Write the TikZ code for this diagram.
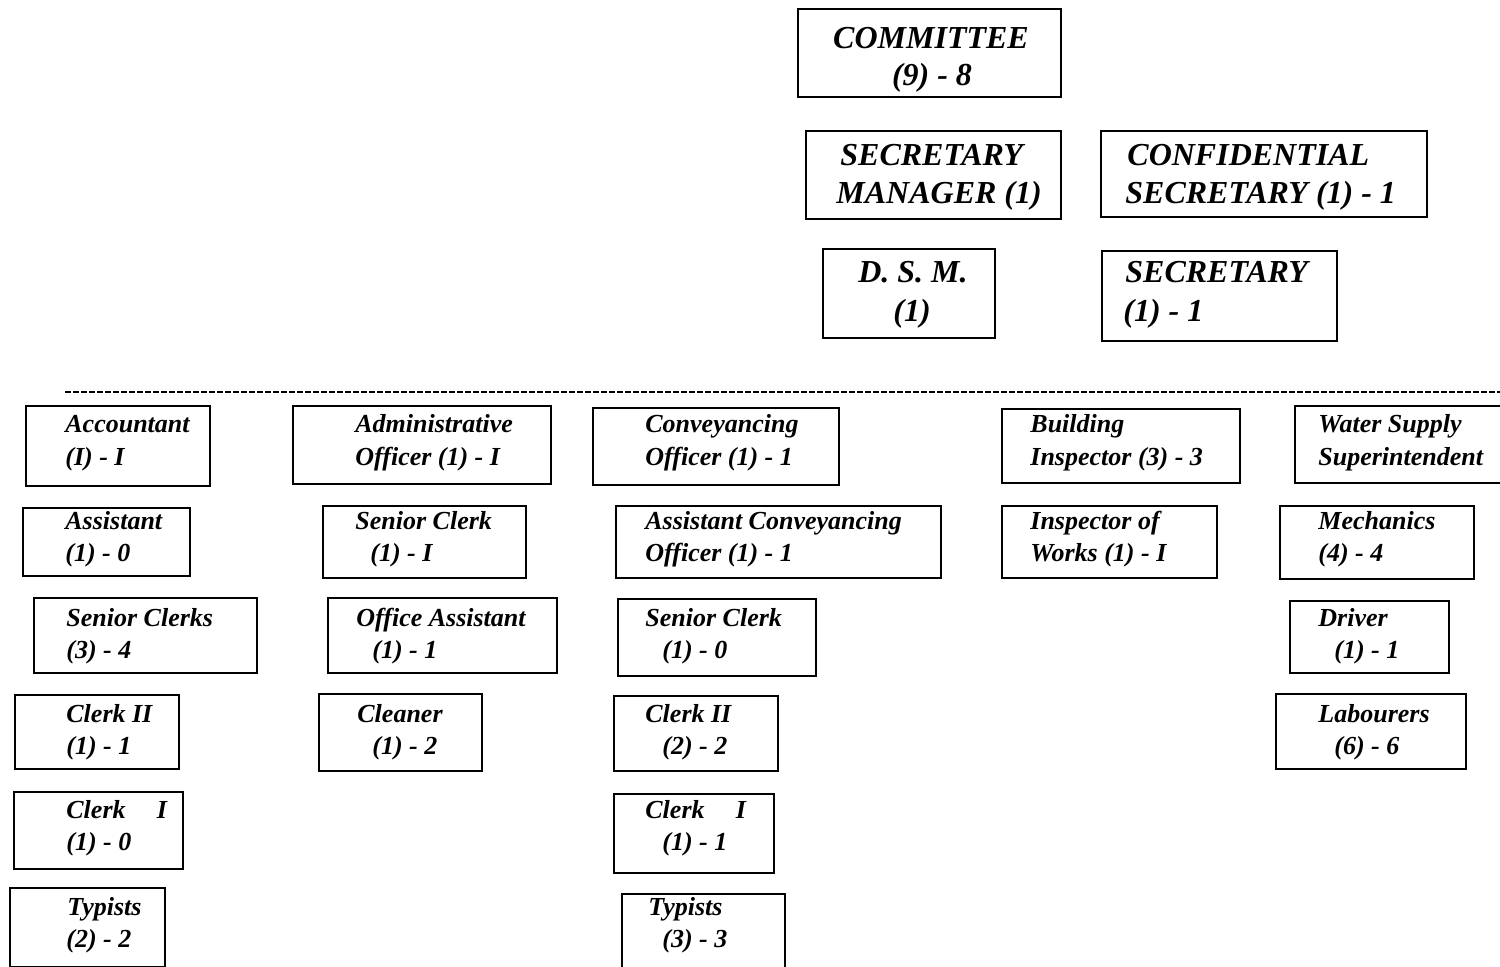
\documentclass[tikz,border=0pt]{standalone}
\usepackage{fontspec}
\setmainfont{Liberation Serif}
\tikzset{
  x=0.5pt, y=-0.5pt,
  bx/.style={draw, line width=1pt, inner sep=0pt, anchor=north west},
  lo/.style={inner sep=0pt, anchor=base west, font=\fontsize{13}{15}\selectfont\bfseries\itshape},
  hi/.style={inner sep=0pt, anchor=base west, font=\fontsize{16}{18}\selectfont\bfseries\itshape},
  dline/.style={line width=1pt, dash pattern=on 3pt off 1pt}
}
\newcommand\bx[5]{\node[bx,minimum width={(#4-#2)*0.5pt},minimum height={(#5-#3)*0.5pt}] (#1) at (#2,#3) {};}
\begin{document}
\begin{tikzpicture}
\useasboundingbox (0,0) rectangle (1500,966);
% ---- top group
\bx{com}{797}{8}{1060}{96}
\node[hi,anchor=base] (com-a) at (931,48) {COMMITTEE};
\node[hi,anchor=base] (com-b) at (932,85) {(9) - 8};
\bx{sm}{805}{130}{1060}{218}
\node[hi] (sm-a) at (840,165) {SECRETARY};
\node[hi] (sm-b) at (836,203) {MANAGER (1)};
\bx{cs}{1100}{130}{1426}{216}
\node[hi] (cs-a) at (1127,165) {CONFIDENTIAL};
\node[hi] (cs-b) at (1125,203) {SECRETARY (1) - 1};
\bx{dsm}{822}{248}{994}{337}
\node[hi,anchor=base] (dsm-a) at (913,282) {D. S. M.};
\node[hi,anchor=base] (dsm-b) at (912,321) {(1)};
\bx{sec}{1101}{250}{1336}{340}
\node[hi] (sec-a) at (1125,282) {SECRETARY};
\node[hi] (sec-b) at (1123,321) {(1) - 1};
% ---- dashed divider
\coordinate (dl) at (65,392);
\coordinate (dr) at (1500,392);
\draw[dline] (dl) -- (dr);
% ---- column 1
\bx{acc}{25}{405}{209}{485}
\node[lo] (acc-a) at (65,432) {Accountant};
\node[lo] (acc-b) at (65,465) {(I) - I};
\bx{ast}{22}{507}{189}{575}
\node[lo] (ast-a) at (65,529) {Assistant};
\node[lo] (ast-b) at (65,561) {(1) - 0};
\bx{scs}{33}{597}{256}{672}
\node[lo] (scs-a) at (66,626) {Senior Clerks};
\node[lo] (scs-b) at (66,658) {(3) - 4};
\bx{c2a}{14}{694}{178}{768}
\node[lo] (c2a-a) at (66,722) {Clerk II};
\node[lo] (c2a-b) at (66,754) {(1) - 1};
\bx{c1a}{13}{791}{182}{868}
\node[lo] (c1a-a) at (66,818) {Clerk\hspace{1.2em}I};
\node[lo] (c1a-b) at (66,850) {(1) - 0};
\bx{tya}{9}{887}{164}{966}
\node[lo] (tya-a) at (67,915) {Typists};
\node[lo] (tya-b) at (66,947) {(2) - 2};
% ---- column 2
\bx{adm}{292}{405}{550}{483}
\node[lo] (adm-a) at (355,432) {Administrative};
\node[lo] (adm-b) at (355,465) {Officer (1) - I};
\bx{scb}{322}{505}{525}{577}
\node[lo] (scb-a) at (355,529) {Senior Clerk};
\node[lo] (scb-b) at (370,561) {(1) - I};
\bx{oas}{327}{597}{556}{672}
\node[lo] (oas-a) at (356,626) {Office Assistant};
\node[lo] (oas-b) at (372,658) {(1) - 1};
\bx{cln}{318}{693}{481}{770}
\node[lo] (cln-a) at (357,722) {Cleaner};
\node[lo] (cln-b) at (372,754) {(1) - 2};
% ---- column 3
\bx{cvo}{592}{407}{838}{484}
\node[lo] (cvo-a) at (645,432) {Conveyancing};
\node[lo] (cvo-b) at (645,465) {Officer (1) - 1};
\bx{aco}{615}{505}{940}{577}
\node[lo] (aco-a) at (645,529) {Assistant Conveyancing};
\node[lo] (aco-b) at (645,561) {Officer (1) - 1};
\bx{scc}{617}{598}{815}{675}
\node[lo] (scc-a) at (645,626) {Senior Clerk};
\node[lo] (scc-b) at (662,658) {(1) - 0};
\bx{c2c}{613}{695}{777}{770}
\node[lo] (c2c-a) at (645,722) {Clerk II};
\node[lo] (c2c-b) at (662,754) {(2) - 2};
\bx{c1c}{613}{793}{773}{872}
\node[lo] (c1c-a) at (645,818) {Clerk\hspace{1.2em}I};
\node[lo] (c1c-b) at (662,850) {(1) - 1};
\bx{tyc}{621}{893}{784}{970}
\node[lo] (tyc-a) at (648,915) {Typists};
\node[lo] (tyc-b) at (662,947) {(3) - 3};
% ---- column 4
\bx{bin}{1001}{408}{1239}{482}
\node[lo] (bin-a) at (1030,432) {Building};
\node[lo] (bin-b) at (1030,465) {Inspector (3) - 3};
\bx{iow}{1001}{505}{1216}{577}
\node[lo] (iow-a) at (1030,529) {Inspector of};
\node[lo] (iow-b) at (1030,561) {Works (1) - I};
% ---- column 5
\bx{wss}{1294}{405}{1502}{482}
\node[lo] (wss-a) at (1318,432) {Water Supply};
\node[lo] (wss-b) at (1318,465) {Superintendent};
\bx{mec}{1279}{505}{1473}{578}
\node[lo] (mec-a) at (1318,529) {Mechanics};
\node[lo] (mec-b) at (1318,561) {(4) - 4};
\bx{drv}{1289}{600}{1448}{672}
\node[lo] (drv-a) at (1318,626) {Driver};
\node[lo] (drv-b) at (1334,658) {(1) - 1};
\bx{lab}{1275}{693}{1465}{768}
\node[lo] (lab-a) at (1318,722) {Labourers};
\node[lo] (lab-b) at (1334,754) {(6) - 6};
\end{tikzpicture}
\end{document}
